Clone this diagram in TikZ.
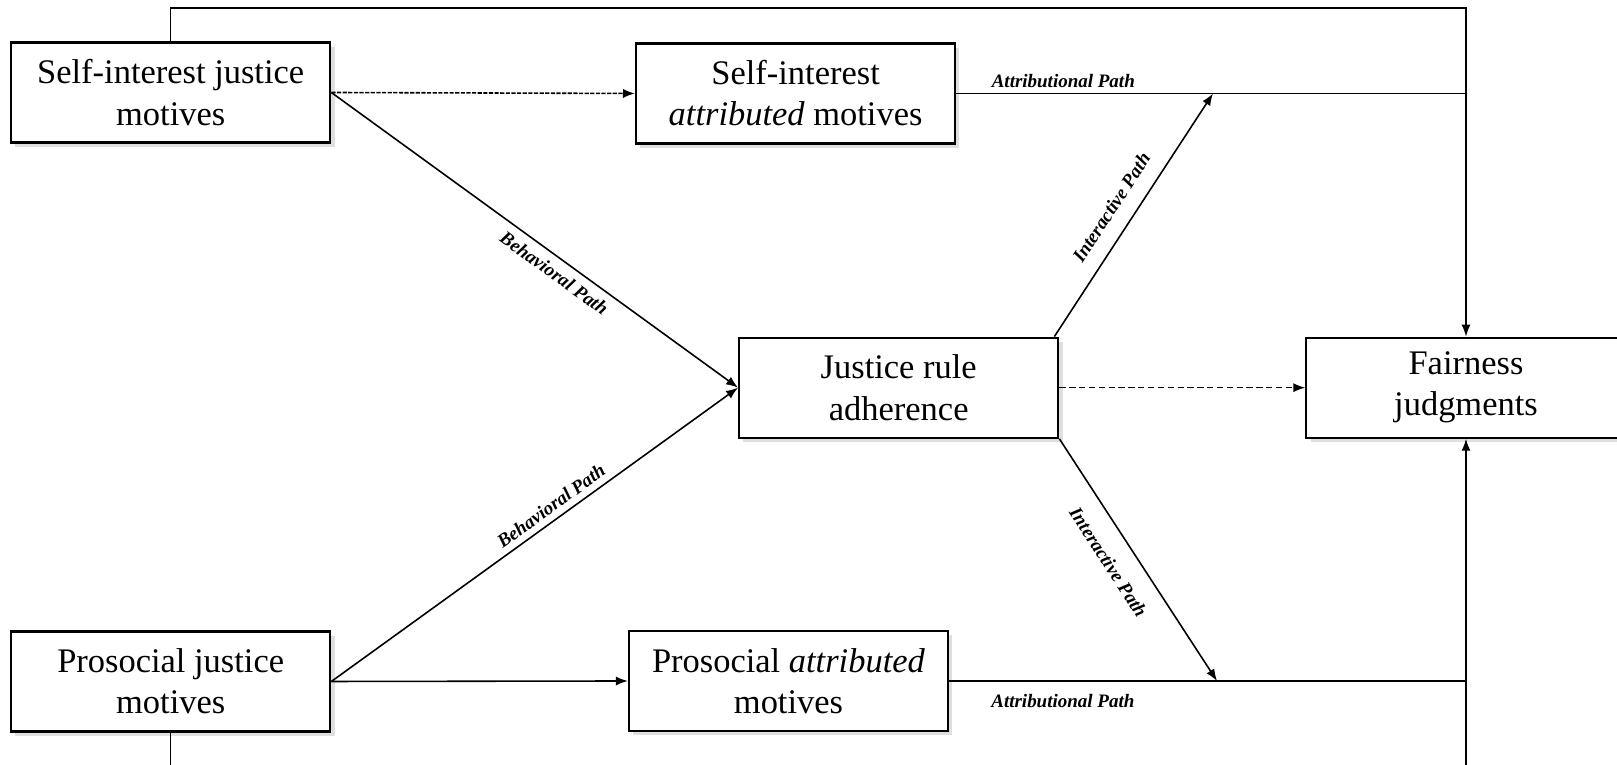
\documentclass[tikz,border=0pt]{standalone}
\usepackage{fontspec}
\setmainfont{Liberation Serif}
\usetikzlibrary{calc,positioning,arrows.meta,shadows}

\begin{document}
\begin{tikzpicture}[x=0.01cm,y=-0.01cm,
  box/.style={draw,line width=0.6pt,fill=white,minimum width=3.19cm,minimum height=1cm,
    align=center,font=\fontsize{9.8}{11.7}\selectfont,
    drop shadow={shadow xshift=1.2pt,shadow yshift=-1.2pt,opacity=0.25}},
  conn/.style={line width=0.45pt,-{Latex[length=3.4pt,width=2.6pt]}},
  plain/.style={line width=0.45pt},
  pathlabel/.style={font=\fontsize{5.4}{6}\selectfont\bfseries\itshape,inner sep=1.5pt}]
\useasboundingbox (0,0) rectangle (1617,765);
% define boxes
\node[box] (SIJ) at (170.7,92.5) {Self-interest justice\\motives};
\node[box] (SIA) at (795.6,93.5) {Self-interest\\\textit{attributed} motives};
\node[box] (JRA) at (898.7,387.7) {Justice rule\\adherence};
\node[box] (FJ) at (1466,387.7) {Fairness\\judgments};
\node[box] (PJ) at (170.7,681.5) {Prosocial justice\\motives};
\node[box] (PA) at (788.5,681) {Prosocial \textit{attributed}\\motives};
% meeting points of the interactive paths
\coordinate (IT) at (SIA.east -| 1213,0);
\coordinate (IB) at (PA.east -| 1217,0);
\coordinate (TR) at (1466,8);
\coordinate (BR) at (1466,768);
% outer lines to fairness judgments
\draw[conn] (SIJ.north) |- (TR) -- (FJ.north);
\draw[conn] (PJ.south) |- (BR) -- (FJ.south);
% attributional paths
\draw[line width=0.45pt,dash pattern=on 1.2pt off 0.4pt,-{Latex[length=3.4pt,width=2.6pt]}] (SIJ.east) -- (SIA.west);
\draw[conn] (PJ.east) -- (PA.west);
\draw[plain] (SIA.east) -- node[pathlabel,above,pos=0.21] {Attributional Path} (SIA.east -| FJ.north);
\draw[plain] (PA.east) -- node[pathlabel,below,pos=0.22,yshift=-2pt] {Attributional Path} (PA.east -| FJ.south);
% behavioral paths
\draw[conn] (SIJ.east) -- node[pathlabel,sloped,below=0.7pt,pos=0.57] {Behavioral Path} (JRA.west);
\draw[conn] (PJ.east) -- node[pathlabel,sloped,above=0.3pt,pos=0.56] {Behavioral Path} (JRA.west);
% interactive paths
\draw[conn] ($(JRA.north east)+(-5,0)$) -- node[pathlabel,sloped,above=2.9pt,pos=0.48] {Interactive Path} (IT);
\draw[conn] (JRA.south east) -- node[pathlabel,sloped,below=3.8pt,pos=0.45] {Interactive Path} (IB);
% direct path
\draw[line width=0.45pt,dash pattern=on 1.8pt off 1pt,-{Latex[length=3.4pt,width=2.6pt]}] (JRA.east) -- (FJ.west);
\end{tikzpicture}
\end{document}
